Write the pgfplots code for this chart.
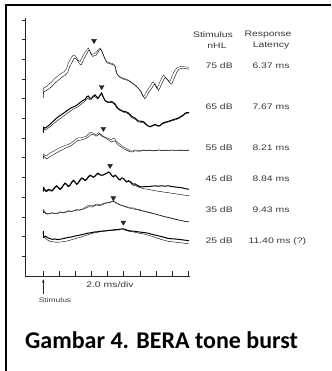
\documentclass[border=0pt]{standalone}
\usepackage{pgfplots}
\pgfplotsset{compat=1.18}
\usetikzlibrary{arrows.meta}
\usepackage{fontspec}
\setmainfont{Liberation Sans}
\newfontfamily\capfont{Carlito}
\newcommand\lab[1]{\scalebox{1.3}[1]{\fontsize{8}{9}\selectfont #1}}
\newcommand\slab[1]{\scalebox{1.3}[1]{\fontsize{6.5}{8}\selectfont #1}}
\definecolor{ink}{gray}{0.15}
\definecolor{txt}{gray}{0.22}
\begin{document}
\begin{tikzpicture}
\path[use as bounding box] (0pt,0pt) rectangle (331pt,371pt);
\draw[line width=1.8pt] (6pt,0pt) -- (6pt,366pt) -- (331pt,366pt);
% y ticks axis
\begin{axis}[at={(25pt,95pt)}, anchor=south west, scale only axis, width=165pt, height=258pt,
  xmin=-2.27, xmax=18.22, ymin=0, ymax=13.1,
  axis lines=left, axis line style={-, line width=0.8pt, ink},
  xtick=\empty, ytick={1,...,13}, yticklabels={},
  tick align=outside, major tick length=2.8pt, tick style={line width=0.7pt, ink}]
\end{axis}
\begin{axis}[at={(25pt,95pt)}, anchor=south west, scale only axis, width=165pt, height=258pt,
  xmin=-2.27, xmax=18.22, ymin=0, ymax=13.1,
  axis lines=left, axis line style={-, line width=0.8pt, ink},
  xtick={0,2,...,18}, xticklabels={}, ytick=\empty,
  tick align=inside, major tick length=5pt, tick style={line width=0.7pt, ink},
  cycle list={{ink, no markers, line width=1.0pt, line join=round}},
  clip=false]
% 75 dB
\addplot table {
0.00 9.20
0.05 9.55
0.35 9.60
0.62 9.72
1.05 9.85
1.45 10.04
1.90 10.18
2.29 10.30
2.60 10.38
2.91 10.55
3.10 10.80
3.32 10.96
3.53 11.12
3.73 11.22
3.95 11.18
4.15 11.10
4.35 10.95
4.56 10.90
4.76 11.05
4.97 11.22
5.20 11.38
5.39 11.48
5.59 11.58
5.80 11.40
6.01 11.24
6.20 11.28
6.42 11.30
6.63 11.38
6.83 11.50
7.04 11.58
7.25 11.45
7.45 11.22
7.65 11.02
7.88 10.88
8.20 10.84
8.50 10.80
8.75 10.75
8.91 10.68
9.02 10.40
9.12 10.28
9.33 10.18
9.53 10.12
9.74 10.08
9.94 10.04
10.25 10.00
10.56 9.95
11.00 9.82
11.39 9.70
11.70 9.58
12.01 9.44
12.22 9.25
12.42 9.10
12.63 9.20
12.84 9.38
13.05 9.52
13.25 9.62
13.45 9.78
13.66 9.86
13.87 9.70
14.09 9.53
14.30 9.68
14.50 9.88
14.70 10.05
14.91 10.20
15.12 10.12
15.33 10.02
15.53 9.92
15.74 9.88
15.95 10.10
16.15 10.30
16.36 10.45
16.57 10.55
16.88 10.62
17.19 10.64
17.60 10.62
18.10 10.60
};
\addplot table {
0.00 9.05
0.05 9.35
0.40 9.42
0.75 9.52
1.15 9.66
1.55 9.84
2.00 9.98
2.40 10.12
2.75 10.20
3.05 10.36
3.25 10.60
3.48 10.78
3.70 10.95
3.90 11.08
4.10 11.02
4.32 10.90
4.52 10.76
4.72 10.72
4.92 10.90
5.12 11.08
5.35 11.25
5.55 11.40
5.72 11.48
5.92 11.28
6.12 11.15
6.32 11.18
6.52 11.20
6.72 11.30
6.92 11.45
7.12 11.52
7.32 11.38
7.52 11.16
7.72 10.98
7.95 10.82
8.25 10.78
8.55 10.74
8.80 10.70
8.98 10.60
9.10 10.34
9.22 10.22
9.42 10.12
9.62 10.06
9.84 10.02
10.05 9.98
10.35 9.95
10.66 9.90
11.10 9.78
11.50 9.64
11.82 9.52
12.15 9.36
12.38 9.16
12.60 9.00
12.82 9.10
13.03 9.28
13.25 9.42
13.45 9.52
13.65 9.66
13.88 9.76
14.10 9.58
14.30 9.42
14.52 9.58
14.72 9.76
14.92 9.94
15.14 10.08
15.35 10.00
15.56 9.88
15.76 9.78
15.96 9.74
16.17 9.96
16.38 10.16
16.60 10.36
16.80 10.48
17.10 10.54
17.40 10.55
17.80 10.52
18.10 10.50
};
% 65 dB
\addplot table {
0.00 7.30
0.05 7.55
0.21 7.51
0.50 7.58
0.83 7.70
1.15 7.82
1.45 7.94
1.85 8.08
2.28 8.20
2.70 8.32
3.11 8.44
3.50 8.55
3.94 8.62
4.25 8.70
4.56 8.80
4.87 8.90
5.18 8.96
5.40 9.10
5.59 9.14
5.80 9.02
6.01 9.04
6.22 9.14
6.42 9.20
6.63 9.10
6.84 9.04
7.05 9.18
7.25 9.30
7.46 9.08
7.66 8.92
7.87 8.86
8.18 8.82
8.49 8.86
8.70 8.80
8.91 8.74
9.11 8.60
9.32 8.50
9.53 8.44
9.74 8.40
9.94 8.36
10.25 8.34
10.56 8.28
10.77 8.20
10.98 8.10
11.19 8.06
11.39 8.02
11.60 7.94
11.81 7.86
12.12 7.86
12.43 7.84
12.63 7.76
12.84 7.68
13.05 7.62
13.26 7.58
13.46 7.62
13.67 7.66
13.88 7.70
14.08 7.66
14.29 7.62
14.50 7.64
14.70 7.72
14.91 7.78
15.22 7.82
15.53 7.85
15.84 7.90
16.15 7.94
16.47 7.98
16.78 8.02
17.09 8.10
17.40 8.18
17.61 8.26
17.81 8.30
18.10 8.30
};
\addplot table {
0.00 7.25
0.05 7.45
0.30 7.42
0.65 7.52
1.00 7.62
1.30 7.74
1.65 7.86
2.05 7.98
2.45 8.10
2.85 8.22
3.25 8.34
3.65 8.46
4.05 8.54
4.40 8.62
4.70 8.72
5.00 8.82
5.30 8.94
5.50 9.04
5.70 8.96
5.92 8.94
6.12 9.06
6.34 9.12
6.55 9.06
6.76 8.98
6.96 9.10
7.18 9.24
7.40 9.12
7.60 8.96
7.82 8.84
8.12 8.80
8.42 8.82
8.64 8.78
8.86 8.70
9.06 8.58
9.26 8.48
9.48 8.42
9.70 8.38
9.92 8.32
10.22 8.30
10.52 8.24
10.74 8.16
10.95 8.06
11.16 8.00
11.38 7.96
11.60 7.90
11.82 7.82
12.12 7.80
12.42 7.78
12.62 7.72
12.84 7.66
13.04 7.60
13.26 7.56
13.46 7.60
13.68 7.62
13.88 7.68
14.08 7.62
14.30 7.60
14.50 7.62
14.72 7.70
14.92 7.74
15.22 7.78
15.54 7.82
15.84 7.86
16.16 7.90
16.46 7.94
16.78 7.98
17.08 8.06
17.40 8.14
17.60 8.22
17.82 8.26
18.10 8.28
};
% 55 dB
\addplot table {
0.00 6.00
0.05 6.20
0.21 6.12
0.41 6.10
0.62 6.18
0.80 6.24
1.10 6.30
1.45 6.38
1.80 6.46
2.28 6.56
2.70 6.62
3.11 6.68
3.40 6.74
3.73 6.84
4.00 6.94
4.35 7.02
4.70 7.02
5.00 7.06
5.30 7.08
5.59 7.20
5.80 7.28
6.05 7.28
6.30 7.24
6.50 7.18
6.70 7.22
6.90 7.28
7.10 7.20
7.30 7.16
7.50 7.08
7.80 7.02
8.10 6.98
8.40 6.92
8.60 6.96
8.80 7.00
9.05 6.86
9.30 6.76
9.50 6.70
9.80 6.60
10.10 6.52
10.40 6.46
10.70 6.38
11.00 6.34
11.40 6.40
11.70 6.38
12.10 6.36
12.40 6.40
12.80 6.38
13.20 6.40
13.60 6.36
14.00 6.38
14.40 6.40
14.80 6.38
15.20 6.40
15.60 6.38
16.00 6.40
16.50 6.38
17.00 6.40
17.50 6.38
18.10 6.40
};
\addplot table {
0.00 5.95
0.05 6.10
0.25 6.00
0.45 5.96
0.70 6.02
1.00 6.10
1.35 6.18
1.70 6.26
2.10 6.36
2.50 6.44
2.90 6.52
3.25 6.58
3.60 6.66
3.95 6.78
4.30 6.88
4.65 6.90
5.00 6.94
5.30 6.98
5.60 7.06
5.85 7.16
6.10 7.20
6.35 7.16
6.55 7.10
6.75 7.14
6.95 7.22
7.15 7.14
7.35 7.08
7.60 7.04
7.90 6.96
8.20 6.88
8.50 6.80
8.70 6.84
8.90 6.86
9.15 6.72
9.40 6.62
9.65 6.56
9.90 6.48
10.20 6.42
10.50 6.36
10.80 6.30
11.10 6.30
11.40 6.36
11.70 6.34
12.10 6.34
12.40 6.38
12.80 6.36
13.20 6.38
13.60 6.35
14.00 6.37
14.40 6.39
14.80 6.36
15.20 6.38
15.60 6.37
16.00 6.39
16.50 6.37
17.00 6.38
17.50 6.36
18.10 6.38
};
% 45 dB
\addplot table {
0.00 4.30
0.05 4.48
0.25 4.36
0.42 4.32
0.62 4.40
0.83 4.38
1.05 4.33
1.25 4.40
1.45 4.52
1.66 4.58
1.87 4.50
2.08 4.40
2.28 4.48
2.49 4.62
2.70 4.72
2.90 4.66
3.11 4.55
3.32 4.62
3.52 4.76
3.73 4.86
3.94 4.78
4.15 4.66
4.35 4.74
4.56 4.88
4.77 4.98
4.97 4.94
5.18 4.86
5.39 4.92
5.60 5.04
5.80 5.12
6.01 5.08
6.22 5.02
6.42 5.08
6.63 5.18
6.84 5.22
7.04 5.14
7.25 5.12
7.46 5.14
7.66 5.18
7.87 5.22
8.08 5.28
8.29 5.24
8.50 5.10
8.70 5.04
8.91 5.12
9.11 5.06
9.32 4.94
9.53 4.88
9.74 4.98
9.94 4.96
10.15 4.86
10.36 4.78
10.57 4.84
10.77 4.80
10.98 4.72
11.18 4.66
11.39 4.68
11.60 4.62
11.90 4.56
12.22 4.52
12.63 4.54
13.05 4.54
13.46 4.56
13.88 4.58
14.29 4.56
14.70 4.58
15.12 4.56
15.53 4.58
15.95 4.54
16.36 4.52
16.78 4.50
17.19 4.48
17.60 4.44
18.10 4.40
};
\addplot table {
0.00 4.28
0.05 4.42
0.25 4.30
0.42 4.28
0.62 4.34
0.83 4.32
1.05 4.30
1.25 4.36
1.45 4.48
1.66 4.54
1.87 4.46
2.08 4.38
2.28 4.44
2.49 4.58
2.70 4.68
2.90 4.62
3.11 4.52
3.32 4.58
3.52 4.72
3.73 4.82
3.94 4.76
4.15 4.64
4.35 4.70
4.56 4.84
4.77 4.94
4.97 4.92
5.18 4.84
5.39 4.88
5.60 5.00
5.80 5.08
6.01 5.06
6.22 5.00
6.42 5.04
6.63 5.14
6.84 5.18
7.04 5.12
7.25 5.10
7.46 5.12
7.66 5.16
7.87 5.20
8.08 5.26
8.29 5.22
8.50 5.08
8.70 5.02
8.91 5.10
9.11 5.04
9.32 4.92
9.53 4.86
9.74 4.96
9.94 4.94
10.15 4.84
10.36 4.76
10.57 4.80
10.77 4.76
10.98 4.66
11.18 4.60
11.39 4.60
11.60 4.56
11.90 4.50
12.22 4.46
12.63 4.42
13.05 4.40
13.46 4.36
13.88 4.33
14.29 4.30
14.70 4.28
15.12 4.25
15.53 4.23
15.95 4.20
16.36 4.18
16.78 4.15
17.19 4.13
17.60 4.10
18.10 4.08
};
% 35 dB
\addplot table {
0.00 3.20
0.04 3.36
0.25 3.22
0.50 3.16
0.83 3.18
1.10 3.22
1.45 3.18
1.80 3.20
2.10 3.26
2.45 3.22
2.80 3.26
3.11 3.32
3.45 3.28
3.80 3.32
4.15 3.38
4.50 3.36
4.85 3.40
5.18 3.48
5.45 3.56
5.75 3.60
6.05 3.56
6.35 3.60
6.65 3.66
6.95 3.62
7.25 3.64
7.55 3.70
7.85 3.72
8.15 3.74
8.45 3.78
8.70 3.82
8.95 3.72
9.25 3.66
9.55 3.62
9.85 3.56
10.15 3.54
10.50 3.50
10.85 3.46
11.20 3.46
11.55 3.40
11.90 3.38
12.30 3.32
12.70 3.28
13.10 3.24
13.50 3.20
13.90 3.16
14.30 3.10
14.70 3.06
15.10 3.02
15.50 2.98
15.90 2.94
16.30 2.90
16.70 2.86
17.10 2.82
17.50 2.79
18.10 2.75
};
\addplot table {
0.00 3.18
0.04 3.30
0.25 3.18
0.50 3.14
0.83 3.16
1.10 3.20
1.45 3.16
1.80 3.18
2.10 3.22
2.45 3.20
2.80 3.24
3.11 3.28
3.45 3.26
3.80 3.30
4.15 3.34
4.50 3.34
4.85 3.38
5.18 3.42
5.45 3.48
5.75 3.52
6.05 3.50
6.35 3.56
6.65 3.60
6.95 3.58
7.25 3.60
7.55 3.66
7.85 3.70
8.15 3.72
8.45 3.76
8.70 3.80
8.95 3.74
9.25 3.68
9.55 3.60
9.85 3.58
10.15 3.52
10.50 3.46
10.85 3.44
11.20 3.40
11.55 3.38
11.90 3.34
12.30 3.30
12.70 3.26
13.10 3.22
13.50 3.18
13.90 3.14
14.30 3.10
14.70 3.05
15.10 3.00
15.50 2.97
15.90 2.93
16.30 2.89
16.70 2.85
17.10 2.81
17.50 2.78
18.10 2.74
};
% 25 dB
\addplot table {
0.00 2.28
0.04 1.96
0.30 2.02
0.55 1.94
0.83 1.90
1.15 1.86
1.45 1.88
1.80 1.85
2.28 1.88
2.70 1.92
3.11 1.96
3.50 1.98
3.94 2.03
4.35 2.06
4.77 2.10
5.18 2.14
5.59 2.18
6.00 2.20
6.42 2.24
6.84 2.25
7.25 2.28
7.66 2.29
8.08 2.31
8.50 2.33
8.91 2.35
9.32 2.36
9.60 2.38
9.94 2.40
10.25 2.35
10.56 2.31
10.98 2.28
11.39 2.27
11.80 2.24
12.22 2.22
12.63 2.20
13.05 2.17
13.46 2.12
13.88 2.08
14.29 2.04
14.70 2.00
15.12 1.95
15.53 1.91
15.95 1.89
16.36 1.88
16.78 1.86
17.19 1.84
17.60 1.82
18.10 1.79
};
\addplot table {
0.00 2.22
0.04 2.00
0.30 1.90
0.55 1.82
0.83 1.76
1.15 1.74
1.45 1.72
1.80 1.72
2.28 1.73
2.70 1.76
3.11 1.79
3.50 1.84
3.94 1.89
4.35 1.94
4.77 1.99
5.18 2.05
5.59 2.10
6.00 2.16
6.42 2.20
6.84 2.23
7.25 2.26
7.66 2.28
8.08 2.30
8.50 2.31
8.91 2.33
9.32 2.34
9.60 2.35
9.94 2.35
10.25 2.32
10.56 2.28
10.98 2.25
11.39 2.22
11.80 2.18
12.22 2.15
12.63 2.12
13.05 2.07
13.46 2.02
13.88 1.96
14.29 1.90
14.70 1.85
15.12 1.80
15.53 1.76
15.95 1.74
16.36 1.72
16.78 1.70
17.19 1.68
17.60 1.66
18.10 1.65
};
% response peak markers
\addplot[only marks, mark=triangle*, mark size=2.8pt, mark options={rotate=180, fill=ink, draw=ink}] coordinates {
(6.30,11.94) (7.25,9.60) (7.46,7.48) (8.29,5.60) (8.70,3.96) (9.94,2.72)};
\end{axis}
% header and labels
\node[txt] at (213pt,336pt) {\lab{Stimulus}};
\node[txt] at (217pt,325pt) {\lab{nHL}};
\node[txt] at (268pt,336pt) {\lab{Response}};
\node[txt] at (271pt,325pt) {\lab{Latency}};
\node[txt, anchor=west] at (202pt,305pt) {\lab{75 dB}};
\node[txt, anchor=west] at (202pt,264pt) {\lab{65 dB}};
\node[txt, anchor=west] at (202pt,223pt) {\lab{55 dB}};
\node[txt, anchor=west] at (202pt,192pt) {\lab{45 dB}};
\node[txt, anchor=west] at (202pt,161pt) {\lab{35 dB}};
\node[txt, anchor=west] at (202pt,130pt) {\lab{25 dB}};
\node[txt, anchor=west] at (249pt,305pt) {\lab{6.37 ms}};
\node[txt, anchor=west] at (249pt,264pt) {\lab{7.67 ms}};
\node[txt, anchor=west] at (249pt,223pt) {\lab{8.21 ms}};
\node[txt, anchor=west] at (249pt,192pt) {\lab{8.84 ms}};
\node[txt, anchor=west] at (249pt,161pt) {\lab{9.43 ms}};
\node[txt, anchor=west] at (245pt,130pt) {\lab{11.40 ms (?)}};
\node[txt] at (110pt,86pt) {\lab{2.0 ms/div}};
\draw[ink, line width=0.8pt, -{Latex[length=3.5pt,width=3pt]}] (43.3pt,77pt) -- (43.3pt,92pt);
\node[txt] at (55pt,71pt) {\slab{Stimulus}};
\node[anchor=base west, inner sep=0pt] at (25pt,22pt) {\capfont\bfseries\fontsize{24}{28}\selectfont Gambar 4. BERA tone burst};
\end{tikzpicture}
\end{document}
